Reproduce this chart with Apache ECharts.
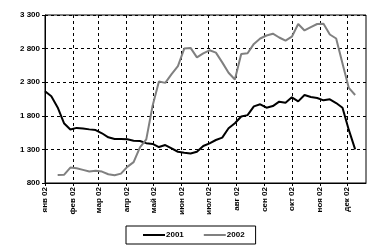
<!DOCTYPE html>
<html><head><meta charset="utf-8">
<script src="https://cdn.jsdelivr.net/npm/echarts@6/dist/echarts.min.js"></script>
<style>html,body{margin:0;padding:0;background:#fff}#c{width:379px;height:252px}</style>
</head><body><div id="c"></div>
<script>
// Month tick labels and the day-of-year they sit on
const monthLabels = ['янв 02','фев 02','мар 02','апр 02','май 02','июн 02','июл 02','авг 02','сен 02','окт 02','ноя 02','дек 02'];
const monthStartDays = [0,31,59,90,120,151,181,212,243,273,304,334];
const axisDayCount = 356;          // Jan 1 .. Dec 22
const sampleStepDays = 7;          // weekly observations
// Weekly values (week 0 = Jan 1)
const values2001 = [2165,2090,1925,1690,1595,1620,1612,1598,1588,1540,1480,1455,1455,1452,1430,1425,1393,1382,1335,1365,1315,1265,1251,1240,1266,1350,1390,1440,1475,1614,1690,1790,1810,1940,1971,1920,1945,2010,1995,2075,2015,2110,2080,2065,2030,2045,1990,1920,1590,1300];
const values2002 = [null,null,919,922,1030,1019,995,970,982,970,930,915,940,1040,1110,1330,1450,1950,2310,2290,2420,2540,2800,2810,2670,2730,2775,2740,2595,2440,2340,2720,2730,2870,2950,2995,3022,2965,2918,2977,3166,3070,3120,3166,3170,3010,2950,2580,2215,2110];
const yMin = 800, yMax = 3300, yStep = 500;
const seriesNames = ['2001','2002'];

const days = [];
for (let i = 0; i < axisDayCount; i++) days.push(String(i));
const isMonthStart = (i) => monthStartDays.indexOf(i) >= 0;
function toPairs(vals){
  const out = [];
  vals.forEach((v,k)=>{ if (v !== null) out.push([k*sampleStepDays, v]); });
  return out;
}
const chart = echarts.init(document.getElementById('c'), null, {renderer:'canvas'});
chart.setOption({
  animation:false,
  grid:{left:45, right:13, top:15, bottom:69, show:true, borderColor:'#000', borderWidth:1, backgroundColor:'transparent'},
  legend:{
    data: seriesNames, left:126, top:226, orient:'horizontal',
    borderColor:'#000', borderWidth:1, padding:[5,11,5,17],
    itemWidth:22, itemHeight:2, itemGap:20, icon:'rect',
    textStyle:{fontFamily:'Liberation Sans', fontSize:8, fontWeight:'bold', color:'#000', padding:[0,0,0,-4]}
  },
  xAxis:{
    type:'category', data:days, boundaryGap:false,
    axisLine:{lineStyle:{color:'#000', width:1}},
    axisTick:{interval:(i)=>isMonthStart(i), length:3, lineStyle:{color:'#000'}},
    axisLabel:{interval:(i)=>isMonthStart(i), rotate:90, margin:4,
      formatter:(v)=>{const i = monthStartDays.indexOf(Number(v)); return i>=0?monthLabels[i]:'';},
      fontFamily:'Liberation Sans', fontSize:8, fontWeight:'bold', color:'#000'},
    splitLine:{show:true, interval:(i)=>isMonthStart(i) && i>0, lineStyle:{color:'#000', type:[3,3], width:1}}
  },
  yAxis:{
    type:'value', min:yMin, max:yMax, interval:yStep,
    axisLine:{show:true, lineStyle:{color:'#000', width:1}},
    axisTick:{show:true, length:3, lineStyle:{color:'#000'}},
    axisLabel:{margin:5, fontFamily:'Liberation Sans', fontSize:8, fontWeight:'bold', color:'#000',
      formatter:(v)=>String(v).replace(/\B(?=(\d{3})+(?!\d))/g,' ')},
    splitLine:{show:true, lineStyle:{color:'#000', type:[3,3], width:1}}
  },
  series:[
    {name:seriesNames[0], type:'line', data:toPairs(values2001), showSymbol:false, symbol:'none',
      lineStyle:{color:'#000', width:2}, itemStyle:{color:'#000'}},
    {name:seriesNames[1], type:'line', data:toPairs(values2002), showSymbol:false, symbol:'none',
      lineStyle:{color:'#808080', width:2}, itemStyle:{color:'#808080'}}
  ]
});
</script></body></html>
